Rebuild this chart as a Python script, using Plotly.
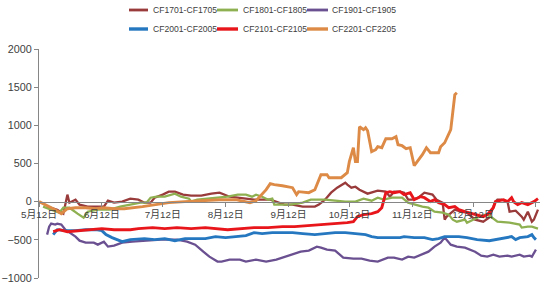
import plotly.graph_objects as go

def to_iso(md):
    m, d = map(int, md.split("/"))
    y = 2021 if m >= 5 else 2022
    return f"{y}-{m:02d}-{d:02d}"

series_names = ["CF1701-CF1705", "CF1801-CF1805", "CF1901-CF1905",
                "CF2001-CF2005", "CF2101-CF2105", "CF2201-CF2205"]
series_colors = ["#9A3B3B", "#8FB050", "#6A5090", "#2578C0", "#E8161B", "#DC8A45"]
series_widths = [2.3, 2.3, 2.3, 2.9, 2.9, 2.9]

dates_1701 = ["5/16","5/21","5/24","5/26","5/27","5/30","6/1","6/5","6/9","6/13","6/15","6/18","6/22","6/26","6/30",
              "7/3","7/6","7/8","7/12","7/15","7/18","7/22","7/26","7/31","8/5","8/9","8/14","8/21","8/26",
              "9/3","9/7","9/10","9/14","9/19","9/25","9/27","9/30","10/3","10/6","10/10","10/11","10/13","10/15",
              "10/17","10/21","10/26","10/30","11/1","11/3","11/6","11/8","11/10","11/12","11/15","11/18","11/22",
              "11/24","11/27","11/28","11/29","12/3","12/6","12/9","12/13","12/17","12/20","12/23","12/24","12/26",
              "12/29","12/30","1/2","1/5","1/6","1/8","1/10","1/11","1/13"]
vals_1701 = [-65,-105,-157,92,-13,26,-39,-65,-65,-65,13,-13,0,39,26,
             -13,-13,52,92,131,131,92,79,79,105,118,65,39,26,
             26,-13,-39,-39,-65,-65,-39,26,118,183,249,223,183,196,
             157,105,144,131,65,131,131,118,26,26,52,118,92,
             26,-13,-236,-196,-105,-131,-144,-236,-262,-209,0,26,26,
             0,-131,-118,-196,-236,-131,-262,-236,-105]

dates_1801 = ["5/14","5/20","5/22","5/24","5/27","5/31","6/3","6/5","6/10","6/16","6/21","6/26",
              "7/1","7/4","7/6","7/9","7/13","7/18","7/21","7/25","7/26","7/29",
              "8/4","8/9","8/13","8/18","8/22","8/25","8/27","8/30","9/2","9/4","9/5","9/13","9/19","9/23","9/30",
              "10/10","10/15","10/19","10/23","10/26","10/29","11/2","11/7","11/10","11/13","11/17","11/20","11/23",
              "11/27","11/30","12/2","12/4","12/8","12/9","12/12","12/14","12/18","12/20","12/24","12/30",
              "1/4","1/5","1/8","1/10","1/13"]
vals_1801 = [-65,-131,-144,-79,-79,-157,-209,-131,-105,-105,-65,-39,
             -13,-13,52,65,65,105,65,39,0,26,
             39,52,65,92,92,65,92,65,26,39,-39,-39,-13,26,26,
             0,0,39,13,52,26,52,52,-13,-39,-65,-79,-131,
             -144,-170,-236,-262,-236,-275,-236,-209,-170,-183,-262,-275,
             -301,-340,-327,-327,-353]

dates_1901 = ["5/16","5/17","5/18","5/20","5/21","5/23","5/25","5/27","5/30","6/1","6/4","6/8","6/10","6/13",
              "6/15","6/18","6/22","6/27","7/3","7/11","7/15","7/19","7/24","7/28","8/1","8/4","8/8","8/10",
              "8/14","8/19","8/22","8/27","9/1","9/6","9/9","9/13","9/18","9/22","9/26","9/28","10/1","10/5",
              "10/9","10/14","10/18","10/22","10/26","10/31","11/3","11/7","11/10","11/13","11/17","11/20",
              "11/23","11/26","11/28","12/1","12/4","12/8","12/13","12/16","12/19","12/22","12/25","12/29",
              "12/31","1/4","1/6","1/9","1/10","1/12"]
vals_1901 = [-432,-327,-288,-301,-288,-301,-367,-406,-458,-511,-537,-537,-563,-524,
             -589,-576,-537,-524,-511,-497,-497,-497,-524,-563,-655,-720,-785,-785,
             -759,-759,-785,-759,-785,-759,-733,-694,-655,-641,-589,-602,-628,-641,
             -733,-746,-746,-772,-785,-733,-733,-759,-720,-733,-694,-655,
             -589,-537,-471,-563,-589,-602,-655,-707,-720,-694,-720,-707,
             -720,-694,-720,-707,-720,-628]

dates_2001 = ["5/19","5/21","5/25","5/30","6/4","6/9","6/12","6/14","6/17","6/20","6/22","6/26",
              "7/3","7/8","7/13","7/18","7/23","8/2","8/7","8/12","8/17","8/22","8/26","8/30",
              "9/4","9/14","9/19","9/25","10/5","10/10","10/15","10/20","10/23","10/26",
              "11/6","11/8","11/13","11/18","11/22","11/25","11/28","12/5","12/9","12/14","12/20",
              "12/25","12/29","12/31","1/2","1/4","1/8","1/10","1/11","1/12"]
vals_2001 = [-432,-367,-380,-380,-367,-367,-380,-432,-471,-497,-524,-497,
             -484,-497,-484,-511,-484,-484,-458,-471,-458,-445,-406,-419,
             -406,-406,-419,-432,-406,-406,-419,-432,-458,-471,
             -471,-458,-471,-471,-497,-484,-458,-458,-471,-497,-511,
             -484,-471,-458,-497,-471,-458,-432,-471,-497]

dates_2101 = ["5/19","5/22","5/26","5/31","6/5","6/12","6/18","6/26","6/30","7/7","7/13","7/19","7/26",
              "8/2","8/13","8/20","8/26","9/2","9/9","9/15","9/22","9/30","10/6","10/11","10/14","10/16",
              "10/19","10/23","10/26","10/28","10/30","11/1","11/3","11/6","11/8","11/11","11/13","11/16",
              "11/18","11/21","11/23","11/25","11/28","11/30","12/3","12/5","12/8","12/10","12/14","12/17",
              "12/19","12/22","12/23","12/27","12/29","12/31","1/1","1/3","1/5","1/8","1/10","1/11","1/13"]
vals_2101 = [-393,-367,-393,-380,-367,-353,-367,-367,-353,-340,-353,-340,-353,
             -340,-367,-353,-340,-340,-327,-327,-314,-301,-288,-275,-262,-196,
             -170,-157,-131,-79,118,131,118,131,92,118,26,65,
             52,0,26,-13,-39,-79,-65,-105,-131,-144,-170,-196,
             -170,-79,0,26,0,52,0,-39,-13,-39,-13,0,39]

dates_2201 = ["5/12","5/15","5/20","5/23","5/26","5/30","6/4","6/9","6/13","6/18","6/23","7/2","7/10","7/15",
              "7/23","8/2","8/9","8/17","8/21","8/24","8/27","8/30","9/1","9/3","9/5","9/9","9/14","9/16",
              "9/17","9/22","9/25","9/28","10/1","10/2","10/8","10/11","10/12","10/14","10/15","10/16","10/17",
              "10/19","10/20","10/21","10/23","10/25","10/26","10/28","10/30","11/2","11/4","11/5","11/7",
              "11/9","11/11","11/13","11/15","11/17","11/19","11/21","11/25","11/26","11/28","11/30","12/1",
              "12/3","12/4"]
vals_2201 = [0,-39,-105,-157,-92,-79,-79,-92,-79,-92,-92,-65,-39,-13,
             0,13,26,26,0,-13,13,92,157,236,223,209,183,92,
             131,118,157,353,353,314,314,380,524,707,524,524,982,
             943,969,929,655,681,720,707,825,825,851,746,733,
             694,707,471,537,615,707,641,641,720,772,877,943,
             1401,1427]

all_dates = [dates_1701, dates_1801, dates_1901, dates_2001, dates_2101, dates_2201]
all_vals = [vals_1701, vals_1801, vals_1901, vals_2001, vals_2101, vals_2201]

tick_dates = ["5/12","6/12","7/12","8/12","9/12","10/12","11/12","12/12","1/12"]
tick_labels = ["5月12日","6月12日","7月12日","8月12日","9月12日","10月12日","11月12日","12月12日","1月12日"]

y_range = [-1000, 2000]
y_ticks = [-1000, -500, 0, 500, 1000, 1500, 2000]

W, H = 550, 289
ML, MR, MT, MB = 39, 10, 49, 11
FONT = "Liberation Sans, Arial, Noto Sans CJK SC, sans-serif"
AXIS_COLOR = "#868686"
TEXT_COLOR = "#404040"

fig = go.Figure()
for name, dts, vals, col, lw in zip(series_names, all_dates, all_vals, series_colors, series_widths):
    fig.add_trace(go.Scatter(
        x=[to_iso(d) for d in dts], y=vals, mode="lines", name=name,
        line=dict(color=col, width=lw), showlegend=False))

zero_pos = (0 - y_range[0]) / (y_range[1] - y_range[0])

fig.update_layout(
    width=W, height=H,
    margin=dict(l=ML, r=MR, t=MT, b=MB, autoexpand=False),
    paper_bgcolor="white", plot_bgcolor="white",
    font=dict(family=FONT, size=10, color=TEXT_COLOR),
    xaxis=dict(type="date", range=["2021-05-12", "2022-01-14"],
               tickvals=[to_iso(d) for d in tick_dates], ticktext=tick_labels,
               tickangle=0, automargin=False,
               showgrid=False, zeroline=False, showline=True, linecolor=AXIS_COLOR, linewidth=1,
               ticks="outside", ticklen=4, tickcolor=AXIS_COLOR,
               anchor="free", position=zero_pos,
               tickfont=dict(size=9.8, family=FONT, color=TEXT_COLOR)),
    yaxis=dict(range=y_range, tickvals=y_ticks, showgrid=False, zeroline=False,
               showline=True, linecolor=AXIS_COLOR, linewidth=1, automargin=False,
               ticks="outside", ticklen=4, tickcolor=AXIS_COLOR,
               tickfont=dict(size=10.8, family=FONT, color=TEXT_COLOR)),
)

# manual legend (two rows of three)
pw = W - ML - MR
ph = H - MT - MB
def px2paper(x, y):
    return (x - ML) / pw, (H - MB - y) / ph

legend_rows_y = [10, 29]
legend_line_x = [(129, 148), (217, 238), (307, 328)]
legend_text_x = [151, 241, 330]
for i, (name, col, lw) in enumerate(zip(series_names, series_colors, series_widths)):
    r, c = divmod(i, 3)
    y = legend_rows_y[r]
    x0, yp = px2paper(legend_line_x[c][0], y)
    x1, _ = px2paper(legend_line_x[c][1], y)
    fig.add_shape(type="line", xref="paper", yref="paper", x0=x0, x1=x1, y0=yp, y1=yp,
                  line=dict(color=col, width=lw + 0.5))
    tx, _ = px2paper(legend_text_x[c], y)
    fig.add_annotation(xref="paper", yref="paper", x=tx, y=yp, text=name, showarrow=False,
                       xanchor="left", yanchor="middle", font=dict(size=8.6, family=FONT, color=TEXT_COLOR))

fig.write_html("out.html")
